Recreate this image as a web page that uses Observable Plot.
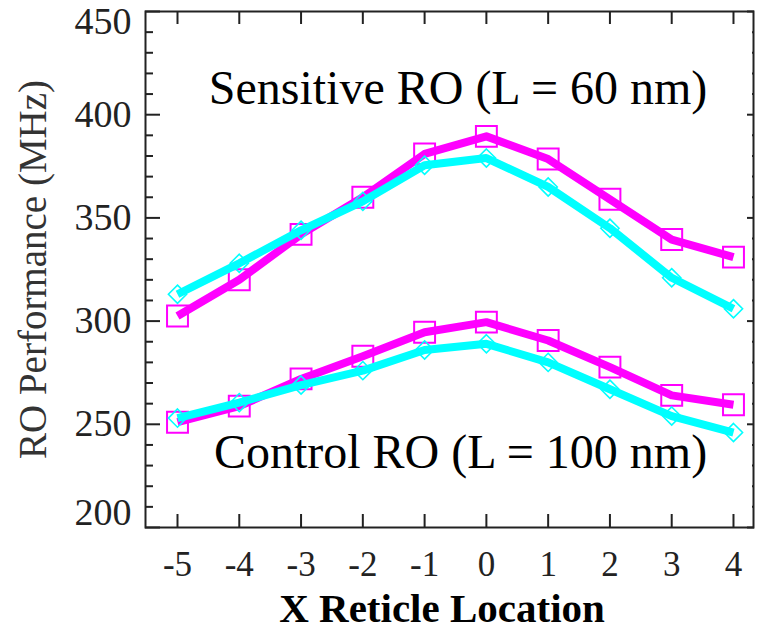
<!DOCTYPE html>
<html><head><meta charset="utf-8">
<script src="https://cdn.jsdelivr.net/npm/d3@7"></script>
<script src="https://cdn.jsdelivr.net/npm/@observablehq/plot@0.6"></script>
<style>body{margin:0;background:#fff;} #chart svg{display:block;}</style>
</head><body><div id="chart"></div>
<script>
// ---- data ----
const xLocations = [-5, -4, -3, -2, -1, 0, 1, 2, 3, 4];
const sensitiveSquare  = [302.5, 320, 342, 360, 381, 389.5, 378.5, 359, 339.5, 331];
const sensitiveDiamond = [313, 328, 344, 358, 375.5, 379, 365, 345, 321, 306];
const controlSquare    = [251, 258.8, 272, 283, 294.6, 299.5, 290.6, 277.7, 264, 259.5];
const controlDiamond   = [253, 260.5, 269, 276, 286, 289, 280, 267, 254, 246];
const xTicks = [-5, -4, -3, -2, -1, 0, 1, 2, 3, 4];
const yMajor = [200, 250, 300, 350, 400, 450];
const yMinor = [210, 220, 230, 240, 260, 270, 280, 290, 310, 320, 330, 340, 360, 370, 380, 390, 410, 420, 430, 440];
const sensitiveLabel = "Sensitive RO (L = 60 nm)";
const controlLabel = "Control RO (L = 100 nm)";
const yTitle = "RO Performance (MHz)";
const xTitle = "X Reticle Location";

const MAGENTA = "#ff00ff", CYAN = "#00ffff", INK = "#222";
const rowsOf = (vals) => xLocations.map((x, i) => ({x, y: vals[i]}));

function seriesMarks(vals, color, symbol, r, sw) {
  const rows = rowsOf(vals);
  return [
    Plot.line(rows, {x: "x", y: "y", stroke: color, strokeWidth: 8, strokeLinejoin: "round", strokeLinecap: "butt"}),
    Plot.dot(rows, {x: "x", y: "y", symbol, r, stroke: color, strokeWidth: sw, fill: "none"})
  ];
}

const serif = "'Liberation Serif', 'Times New Roman', Times, serif";
const noText = () => "";
const plain = (d) => String(d);

const chart = Plot.plot({
  width: 757, height: 629,
  marginLeft: 145, marginRight: 4, marginTop: 11, marginBottom: 102,
  style: {fontFamily: serif, background: "white", overflow: "visible"},
  x: {domain: [-5.518, 4.324]},
  y: {domain: [200, 450]},
  marks: [
    // series
    ...seriesMarks(controlSquare, MAGENTA, "square", 11.8, 2),
    ...seriesMarks(controlDiamond, CYAN, "diamond2", 8.2, 1.6),
    ...seriesMarks(sensitiveSquare, MAGENTA, "square", 11.8, 2),
    ...seriesMarks(sensitiveDiamond, CYAN, "diamond2", 8.2, 1.6),
    // frame & ticks
    Plot.frame({stroke: INK, strokeWidth: 2}),
    Plot.axisY(yMajor, {anchor: "left", tickSize: -15, tickFormat: noText, label: null, stroke: INK, strokeWidth: 2}),
    Plot.axisY(yMinor, {anchor: "left", tickSize: -8, tickFormat: noText, label: null, stroke: INK, strokeWidth: 2}),
    Plot.axisY(yMajor, {anchor: "right", tickSize: -7, tickFormat: noText, label: null, stroke: INK, strokeWidth: 2}),
    Plot.axisY(yMinor, {anchor: "right", tickSize: -2, tickFormat: noText, label: null, stroke: INK, strokeWidth: 2}),
    Plot.axisX(xTicks, {anchor: "bottom", tickSize: -13, tickFormat: noText, label: null, stroke: INK, strokeWidth: 2}),
    Plot.axisX(xTicks, {anchor: "top", tickSize: -12, tickFormat: noText, label: null, stroke: INK, strokeWidth: 2}),
    // tick labels
    Plot.axisY(yMajor.filter(d => d > 200 && d < 450), {anchor: "left", tickSize: 0, tickPadding: 14, fontSize: 38, fill: INK, label: null, tickFormat: plain}),
    Plot.axisY([450], {anchor: "left", tickSize: 0, tickPadding: 14, fontSize: 38, fill: INK, label: null, dy: 10, tickFormat: plain}),
    Plot.axisY([200], {anchor: "left", tickSize: 0, tickPadding: 14, fontSize: 38, fill: INK, label: null, dy: -15, tickFormat: plain}),
    Plot.axisX(xTicks, {anchor: "bottom", tickSize: 0, tickPadding: 24, fontSize: 35, fill: INK, label: null, tickFormat: plain}),
    // titles & annotations
    Plot.text([yTitle], {text: d => d, frameAnchor: "left", textAnchor: "middle", rotate: -90, lineAnchor: "bottom", dx: -100, fontSize: 39, fill: "#333"}),
    Plot.text([xTitle], {text: d => d, frameAnchor: "bottom", textAnchor: "middle", lineAnchor: "bottom", dx: -7.5, dy: 94, fontSize: 41, fontWeight: "bold", fill: "#000"}),
    Plot.text([sensitiveLabel], {text: d => d, frameAnchor: "top", textAnchor: "middle", lineAnchor: "bottom", dx: 8.5, dy: 92, fontSize: 48, fill: "#000"}),
    Plot.text([controlLabel], {text: d => d, frameAnchor: "bottom", textAnchor: "middle", lineAnchor: "bottom", dx: 11, dy: -60, fontSize: 48, fill: "#000"})
  ]
});
document.getElementById("chart").append(chart);
</script>
</body></html>
